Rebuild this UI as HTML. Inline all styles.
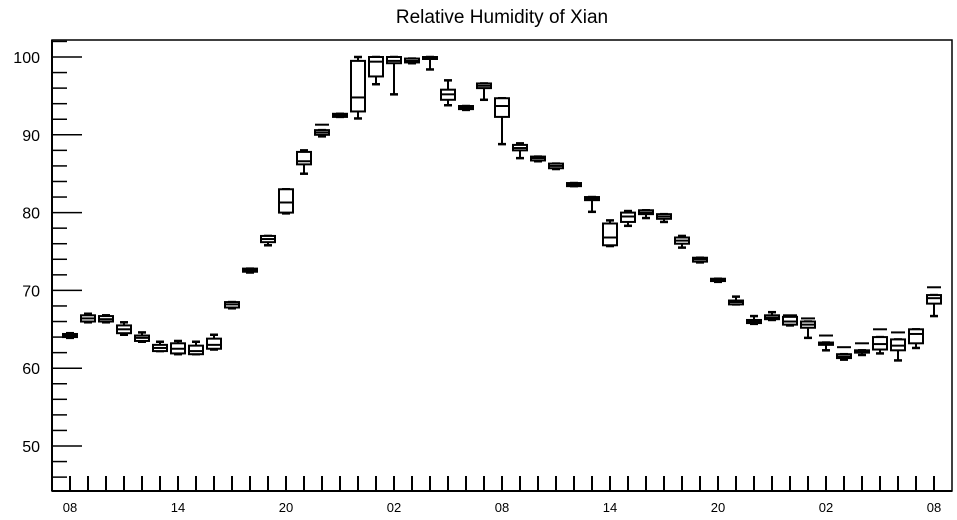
<!DOCTYPE html>
<html><head><meta charset="utf-8"><style>
body{margin:0;background:#fff;}
svg{display:block;font-family:"Liberation Sans",Arial,sans-serif;}
</style></head><body>
<svg id="chart" width="957" height="520">
<text x="502" y="23" text-anchor="middle" font-size="19">Relative Humidity of Xian</text>
<g id="axes"></g><g id="boxes"></g>
</svg>
<script>
const hourLabels=["08","14","20","02","08","14","20","02","08"];
const yTicks=[50,60,70,80,90,100];
const lows=[63.9,65.9,65.9,64.3,63.4,62.2,61.8,61.8,62.4,67.7,72.3,75.8,79.9,85.0,89.8,92.3,92.1,96.5,95.2,99.2,98.4,93.8,93.2,94.5,88.8,87.0,86.6,85.6,83.4,80.1,75.7,78.3,79.3,78.8,75.5,73.6,71.1,68.2,65.7,66.2,65.5,63.9,62.3,61.1,61.7,61.9,61.0,62.6,66.7];
const q1s=[64.0,66.0,66.0,64.5,63.5,62.2,61.9,61.8,62.5,67.8,72.4,76.2,80.0,86.2,90.0,92.3,93.0,97.5,99.2,99.3,99.9,94.5,93.3,96.0,92.3,88.0,86.7,85.7,83.4,81.6,75.8,78.8,79.8,79.2,76.0,73.7,71.2,68.2,65.8,66.3,65.6,65.2,63.0,61.3,62.0,62.4,62.3,63.2,68.3];
const meds=[64.2,66.4,66.3,65.0,63.9,62.6,62.5,62.2,63.0,68.2,72.6,76.6,81.3,86.6,90.3,92.5,94.8,99.4,99.5,99.5,100,95.2,93.5,96.3,93.7,88.3,87.0,86.0,83.6,81.8,76.8,79.5,80.0,79.5,76.4,74.0,71.4,68.5,66.0,66.5,66.0,65.6,63.1,61.5,62.1,63.1,62.9,64.4,69.0];
const q3s=[64.4,66.8,66.7,65.5,64.2,63.0,63.2,62.9,63.8,68.5,72.8,77.0,83.0,87.8,90.6,92.7,99.5,100,100,99.8,100,95.8,93.7,96.6,94.7,88.7,87.2,86.3,83.8,82.0,78.6,80.0,80.3,79.8,76.8,74.2,71.5,68.7,66.2,66.8,66.6,66.0,63.3,61.8,62.3,64.0,63.7,65.0,69.4];
const highs=[64.5,67.0,66.8,65.9,64.6,63.4,63.5,63.4,64.3,68.5,72.8,77.0,83.0,88.0,90.6,92.7,100,100,100,99.8,100,97.0,93.7,96.6,94.7,88.9,87.2,86.3,83.8,82.0,79.0,80.2,80.3,79.8,77.0,74.2,71.5,69.2,66.7,67.2,66.6,66.0,63.3,61.8,62.3,64.0,63.7,65.0,69.4];
const extras=[null,null,null,null,null,null,null,null,null,null,null,null,null,null,91.3,null,null,null,null,null,null,null,null,null,null,null,null,null,null,null,null,null,null,null,null,null,null,null,null,null,66.8,66.4,64.2,62.7,63.2,65.0,64.6,null,70.4];
const NS="http://www.w3.org/2000/svg";
const X0=52,X1=952,Y0=40,Y1=491;
const xs=h=>70+h*18;
const ys=v=>57+(100-v)*7.78;
function mk(tag,attrs,parent){const e=document.createElementNS(NS,tag);for(const k in attrs)e.setAttribute(k,attrs[k]);parent.appendChild(e);return e;}
const axes=document.getElementById('axes'),boxes=document.getElementById('boxes');
let fr=mk('rect',{x:X0,y:Y0,width:X1-X0,height:Y1-Y0,fill:'none',stroke:'#000','stroke-width':1.5},axes);


mk('line',{x1:X0,y1:Y1,x2:X1,y2:Y1,stroke:'#000','stroke-width':2},axes);
mk('line',{x1:X0,y1:Y0,x2:X0,y2:Y1,stroke:'#000','stroke-width':2},axes);
for(let v=46;v<=102;v+=2){const y=ys(v);if(y<Y0||y>Y1-10)continue;const major=v%10===0;
 let t=mk('line',{x1:X0,y1:y,x2:X0+(major?30:15),y2:y,stroke:'#000','stroke-width':1.5},axes);
 
 }
yTicks.forEach(v=>{let t=mk('text',{x:40,y:ys(v)+6,'text-anchor':'end','font-size':16},axes);t.textContent=v;
 
 });
for(let h=0;h<lows.length;h++){let t=mk('line',{x1:xs(h),y1:Y1-15,x2:xs(h),y2:Y1,stroke:'#000','stroke-width':2},axes);
 
 }
hourLabels.forEach((l,i)=>{let t=mk('text',{x:xs(i*6),y:512,'text-anchor':'middle','font-size':13},axes);t.textContent=l;
 
 });
const hw=7,cw=4;
for(let i=0;i<lows.length;i++){
 const g=mk('g',{stroke:'#000','stroke-width':2,fill:'none'},boxes);
 
 
 const x=xs(i);
 mk('line',{x1:x,y1:ys(highs[i]),x2:x,y2:ys(q3s[i])},g);
 mk('line',{x1:x,y1:ys(q1s[i]),x2:x,y2:ys(lows[i])},g);
 mk('line',{x1:x-cw,y1:ys(highs[i]),x2:x+cw,y2:ys(highs[i]),'stroke-width':2.5},g);
 mk('line',{x1:x-cw,y1:ys(lows[i]),x2:x+cw,y2:ys(lows[i]),'stroke-width':2.5},g);
 const yt=ys(q3s[i]),yb=ys(q1s[i]);
 mk('rect',{x:x-hw,y:yt,width:2*hw,height:Math.max(yb-yt,2),fill:'#fff'},g);
 mk('line',{x1:x-hw,y1:ys(meds[i]),x2:x+hw,y2:ys(meds[i])},g);
 if(extras[i]!==null)mk('line',{x1:x-hw,y1:ys(extras[i]),x2:x+hw,y2:ys(extras[i])},g);
}
</script>
</body></html>
